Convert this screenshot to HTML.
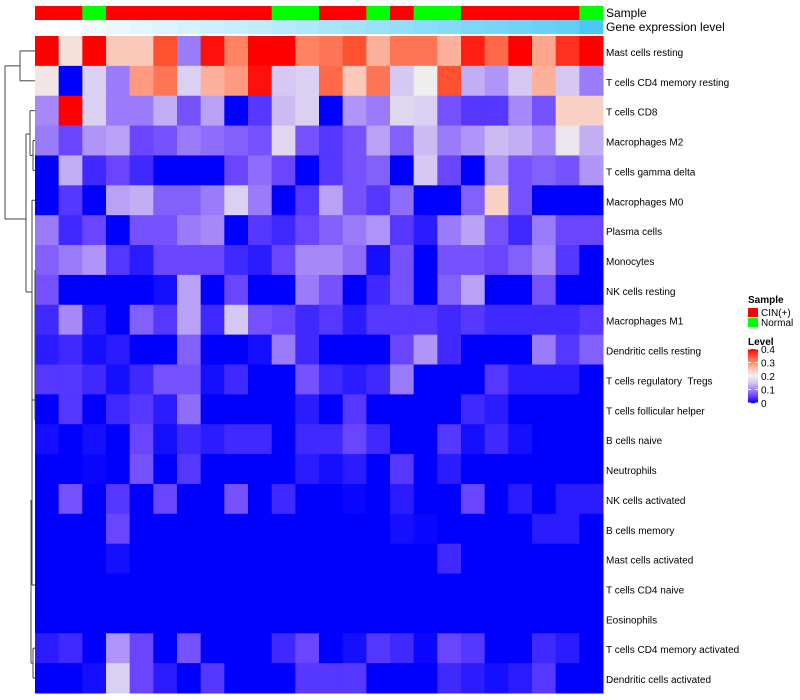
<!DOCTYPE html>
<html><head><meta charset="utf-8"><style>
body{margin:0;background:#fff;font-family:"Liberation Sans",sans-serif;}
svg{display:block}
text{white-space:pre}
</style></head><body>
<svg id="chart" width="800" height="700" xmlns="http://www.w3.org/2000/svg"></svg>
<script>
const rowLabels=["Mast cells resting","T cells CD4 memory resting","T cells CD8","Macrophages M2","T cells gamma delta","Macrophages M0","Plasma cells","Monocytes","NK cells resting","Macrophages M1","Dendritic cells resting","T cells regulatory  Tregs","T cells follicular helper","B cells naive","Neutrophils","NK cells activated","B cells memory","Mast cells activated","T cells CD4 naive","Eosinophils","T cells CD4 memory activated","Dendritic cells activated"];
const sampleGroups=["CIN","CIN","Normal","CIN","CIN","CIN","CIN","CIN","CIN","CIN","Normal","Normal","CIN","CIN","Normal","CIN","Normal","Normal","CIN","CIN","CIN","CIN","CIN","Normal"];
const geneLevel=[0,0.04,0.08,0.12,0.16,0.2,0.24,0.28,0.32,0.36,0.4,0.44,0.48,0.52,0.56,0.6,0.64,0.68,0.72,0.76,0.8,0.84,0.88,1];
const values=[
[.4,.22,.4,.25,.25,.35,.09,.39,.31,.4,.4,.31,.32,.35,.27,.32,.32,.27,.38,.33,.4,.28,.37,.4],
[.21,0,.16,.09,.29,.32,.16,.27,.29,.39,.15,.16,.33,.25,.32,.15,.2,.35,.13,.11,.15,.27,.15,.09],
[.1,.4,.16,.09,.09,.13,.06,.12,0,.04,.14,.16,0,.11,.09,.17,.16,.06,.04,.04,.1,.06,.24,.24],
[.09,.05,.11,.12,.05,.06,.09,.08,.07,.06,.17,.06,.04,.06,.12,.07,.14,.09,.11,.14,.13,.1,.19,.13],
[0,.13,.03,.05,.03,0,0,0,.05,.08,.05,0,.04,.06,.07,0,.15,.05,0,.11,.06,.07,.06,.11],
[0,.04,0,.12,.13,.07,.07,.09,.16,.09,0,.04,.12,.06,.04,.08,0,0,.07,.24,.06,0,0,0],
[.09,.03,.05,0,.06,.06,.09,.1,0,.04,.03,.05,.07,.09,.11,.04,.02,.09,.12,.06,.03,.09,.05,.05],
[.07,.09,.11,.04,.02,.05,.05,.05,.03,.02,.05,.1,.1,.08,.01,.06,0,.06,.06,.05,.07,.1,.04,0],
[.06,0,0,0,0,.01,.12,0,.05,0,0,.09,.06,0,.03,.06,0,.07,.12,0,0,.06,0,0],
[.03,.1,.02,0,.07,.04,.12,.03,.15,.06,.05,.03,.04,.02,.04,.04,.04,.03,.04,.03,.03,.03,.03,.04],
[.02,.03,.01,.02,0,0,.07,0,0,.01,.09,.03,0,0,0,.05,.11,.03,0,0,0,.09,.04,.07],
[.04,.04,.03,.01,.03,.06,.06,.01,.03,0,0,.06,.03,.02,.03,.09,0,0,0,.04,.02,.02,.02,0],
[0,.04,0,.03,.04,.02,.08,0,0,0,0,.02,0,.04,0,0,0,0,.03,.02,0,0,0,0],
[.01,0,.01,0,.05,.01,.03,.02,.03,.03,0,.03,.03,.05,.03,0,0,.04,.01,.03,.01,0,0,0],
[0,0,.005,0,.06,0,.04,0,0,0,0,.02,.01,.02,0,.04,0,.02,0,0,0,0,0,0],
[0,.06,0,.04,0,.05,0,0,.06,0,.03,0,0,.005,0,.02,0,0,.05,0,.02,0,.02,.02],
[0,0,0,.05,0,0,0,0,0,0,0,0,0,0,0,.01,.005,0,0,0,0,.02,.02,0],
[0,0,0,.01,0,0,0,0,0,0,0,0,0,0,0,0,0,.03,0,0,0,0,0,0],
[0,0,0,0,0,0,0,0,0,0,0,0,0,0,0,0,0,0,0,0,0,0,0,0],
[0,0,0,0,0,0,0,0,0,0,0,0,0,0,0,0,0,0,0,0,0,0,0,0],
[.02,.03,0,.11,.05,0,.06,0,0,0,.03,.05,0,.01,.04,.03,.005,.05,.04,0,0,.03,.02,0],
[0,0,.01,.16,.05,.02,0,.04,0,0,0,.04,.04,.04,0,0,0,.03,.02,.01,.02,.04,0,0]
];
const legendTicks=[0,0.1,0.2,0.3,0.4];

const NS="http://www.w3.org/2000/svg";
const svg=document.getElementById('chart');
const X0=35,X1=603,Y0=36,Y1=693;
const nC=values[0].length,nR=values.length;
const cw=(X1-X0)/nC,rh=(Y1-Y0)/nR;
const xPos=c=>X0+c*cw, yPos=r=>Y0+r*rh;
const stops=[[0,[0,0,255]],[0.05,[106,69,255]],[0.1,[166,136,248]],[0.15,[213,200,242]],[0.2,[238,238,238]],[0.25,[252,200,185]],[0.3,[255,143,112]],[0.35,[255,80,48]],[0.4,[255,0,0]]];
function color(v){v=Math.max(0,Math.min(0.4,v));for(let i=1;i<stops.length;i++){if(v<=stops[i][0]){const a=stops[i-1],b=stops[i],t=(v-a[0])/(b[0]-a[0]);return 'rgb('+a[1].map((x,k)=>Math.round(x+(b[1][k]-x)*t)).join(',')+')';}}return 'rgb(255,0,0)';}
function mk(tag,attrs,parent){const e=document.createElementNS(NS,tag);for(const k in attrs)e.setAttribute(k,attrs[k]);(parent||svg).appendChild(e);return e;}

sampleGroups.forEach((g,c)=>{
 const r=mk('rect',{x:xPos(c),y:6,width:cw+0.5,height:14,fill:g==="CIN"?'#FF0000':'#00FF00'});
 
 
});
geneLevel.forEach((g,c)=>{
 const R=Math.round(255+(76-255)*g),G=Math.round(255+(200-255)*g),B=Math.round(255+(245-255)*g);
 const r=mk('rect',{x:xPos(c),y:20,width:cw+0.5,height:14,fill:`rgb(${R},${G},${B})`});
 
 
});
[["Sample",17],["Gene expression level",31]].forEach(([t,y])=>{
 const e=mk('text',{x:606,y:y,'font-size':12,fill:'#000'});e.textContent=t;
 
 
});
values.forEach((row,r)=>row.forEach((v,c)=>{
 const e=mk('rect',{x:xPos(c),y:yPos(r),width:cw+0.5,height:rh+0.5,fill:color(v)});
 
 
}));
rowLabels.forEach((t,r)=>{
 const e=mk('text',{x:606,y:yPos(r)+rh/2+5,'font-size':10,fill:'#000'});e.textContent=t;
 
 
});
const cy=r=>yPos(r)+rh/2;
const seg=[
 [20,cy(0),35,cy(0)],[20,cy(1),35,cy(1)],[20,cy(0),20,cy(1)],
 [5,(cy(0)+cy(1))/2,20,(cy(0)+cy(1))/2],[5,(cy(0)+cy(1))/2,5,219],[5,219,26,219],
 [30,cy(2),35,cy(2)],[33,cy(3),35,cy(3)],[33,cy(4),35,cy(4)],[33,cy(3),33,cy(4)],[30,(cy(3)+cy(4))/2,33,(cy(3)+cy(4))/2],[30,cy(2),30,(cy(3)+cy(4))/2],
 [26,134,30,134],[26,134,26,292],[26,292,32,292],
 [32,cy(5),35,cy(5)],[32,cy(5),32,400],[32,400,35,400],[35,270,35,420],
 [32,400,32,585],[32,585,35,585],[33,cy(20),35,cy(20)],[33,cy(21),35,cy(21)],[33,cy(20),33,cy(21)],[31,(cy(20)+cy(21))/2,33,(cy(20)+cy(21))/2],[31,500,31,(cy(20)+cy(21))/2]
];
seg.forEach(s=>{
 const e=mk('line',{x1:s[0],y1:s[1],x2:s[2],y2:s[3],stroke:'#444','stroke-width':1});
 
 
});
const lg=mk('g',{});


let t=mk('text',{x:748,y:303,'font-size':10,'font-weight':'bold'},lg);t.textContent='Sample';
[["CIN(+)",'#FF0000',308],["Normal",'#00FF00',318]].forEach(([n,f,y])=>{
 const r=mk('rect',{x:748,y:y,width:10,height:9,fill:f},lg);
 
 
 const tx=mk('text',{x:761,y:y+8,'font-size':10},lg);tx.textContent=n;
 
 
});
t=mk('text',{x:748,y:345,'font-size':10,'font-weight':'bold'},lg);t.textContent='Level';
const gy0=349,gy1=403;
for(let i=0;i<54;i++){const v=0.4*(1-i/53);mk('rect',{x:748,y:gy0+i,width:10,height:1.2,fill:color(v)},lg);}
legendTicks.forEach(v=>{
 const y=gy1-(v/0.4)*(gy1-gy0);
 mk('line',{x1:748,x2:751,y1:y,y2:y,stroke:'#fff'},lg);mk('line',{x1:755,x2:758,y1:y,y2:y,stroke:'#fff'},lg);
 const tx=mk('text',{x:761,y:y+4,'font-size':10},lg);tx.textContent=String(v);
 
 
});
</script>
</body></html>
